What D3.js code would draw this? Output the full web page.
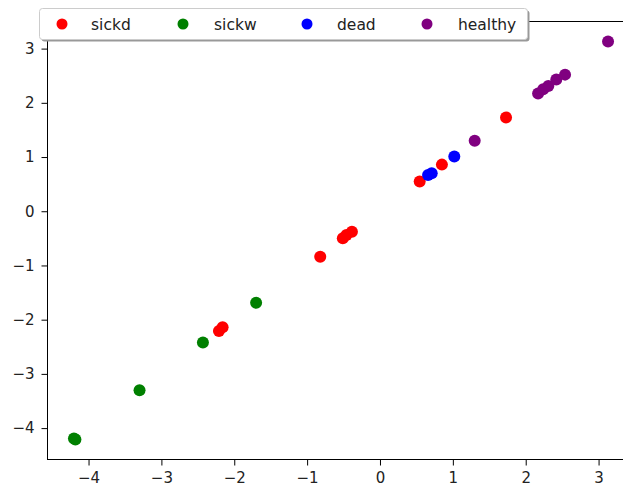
<!DOCTYPE html>
<html><head><meta charset="utf-8">
<script src="https://cdn.jsdelivr.net/npm/d3@7"></script>
<style>body{margin:0;background:#fff}svg{display:block}text{font-family:"DejaVu Sans",sans-serif}</style>
</head><body>
<svg id="c" width="623" height="492"></svg>
<script>
const sickdX = [1.73, 0.85, 0.545, -0.385, -0.46, -0.51, -0.82, -2.16, -2.21];
const sickdY = [1.73, 0.86, 0.55, -0.377, -0.44, -0.50, -0.84, -2.14, -2.21];
const sickwX = [-1.70, -2.43, -3.30, -4.20, -4.18];
const sickwY = [-1.69, -2.42, -3.30, -4.19, -4.21];
const deadX = [1.02, 0.71, 0.66];
const deadY = [1.01, 0.70, 0.67];
const healthyX = [3.13, 2.54, 2.42, 2.31, 2.24, 2.17, 1.30];
const healthyY = [3.13, 2.52, 2.43, 2.31, 2.25, 2.17, 1.30];
const seriesNames = ["sickd", "sickw", "dead", "healthy"];
const seriesColors = ["#ff0000", "#008000", "#0000ff", "#800080"];
const xTicks = [-4, -3, -2, -1, 0, 1, 2, 3];
const yTicks = [-4, -3, -2, -1, 0, 1, 2, 3];

const series = [[sickdX, sickdY], [sickwX, sickwY], [deadX, deadY], [healthyX, healthyY]];
const svg = d3.select("#c");
const L = 47, R = 635, T = 21.5, B = 459;
const x = d3.scaleLinear().domain([-4.57, 3.50]).range([L, R]);
const y = d3.scaleLinear().domain([-4.57, 3.50]).range([B, T]);
const fmt = d => d < 0 ? "\u2212" + Math.abs(d) : String(d);

const xa = svg.append("g").attr("transform", `translate(0,${B + 0.5})`)
  .call(d3.axisBottom(x).tickValues(xTicks).tickFormat(fmt).tickSize(6).tickPadding(7));
const ya = svg.append("g").attr("transform", `translate(${L + 0.5},0)`)
  .call(d3.axisLeft(y).tickValues(yTicks).tickFormat(fmt).tickSize(6).tickPadding(7));
[xa, ya].forEach(a => {
  a.select(".domain").remove();
  a.selectAll("line").attr("stroke", "#000").attr("stroke-width", 1);
  a.selectAll("text").attr("font-size", 15).attr("fill", "#222").attr("font-family", "DejaVu Sans");
});

svg.append("rect").attr("x", L + 0.5).attr("y", 21.5).attr("width", R - L).attr("height", B - 21)
  .attr("fill", "none").attr("stroke", "#000").attr("stroke-width", 1);

series.forEach((s, i) => {
  svg.append("g").selectAll("circle").data(s[0].map((v, j) => [v, s[1][j]])).join("circle")
    .attr("cx", d => x(d[0])).attr("cy", d => y(d[1])).attr("r", 6)
    .attr("fill", seriesColors[i]);
});

// legend
const lg = svg.append("g");
lg.append("rect").attr("x", 41.5).attr("y", 10.5).attr("width", 488).attr("height", 31).attr("rx", 3)
  .attr("fill", "#999");
lg.append("rect").attr("x", 39.5).attr("y", 8.5).attr("width", 488).attr("height", 31).attr("rx", 3)
  .attr("fill", "#fff").attr("stroke", "#ccc");
const lx = [62, 183, 307, 427], tx = [91, 214, 337, 458];
seriesNames.forEach((n, i) => {
  lg.append("circle").attr("cx", lx[i]).attr("cy", 24).attr("r", 5.5).attr("fill", seriesColors[i]);
  lg.append("text").attr("x", tx[i]).attr("y", 29.5).attr("font-size", 15.5).attr("fill", "#222").text(n);
});
</script>
</body></html>
